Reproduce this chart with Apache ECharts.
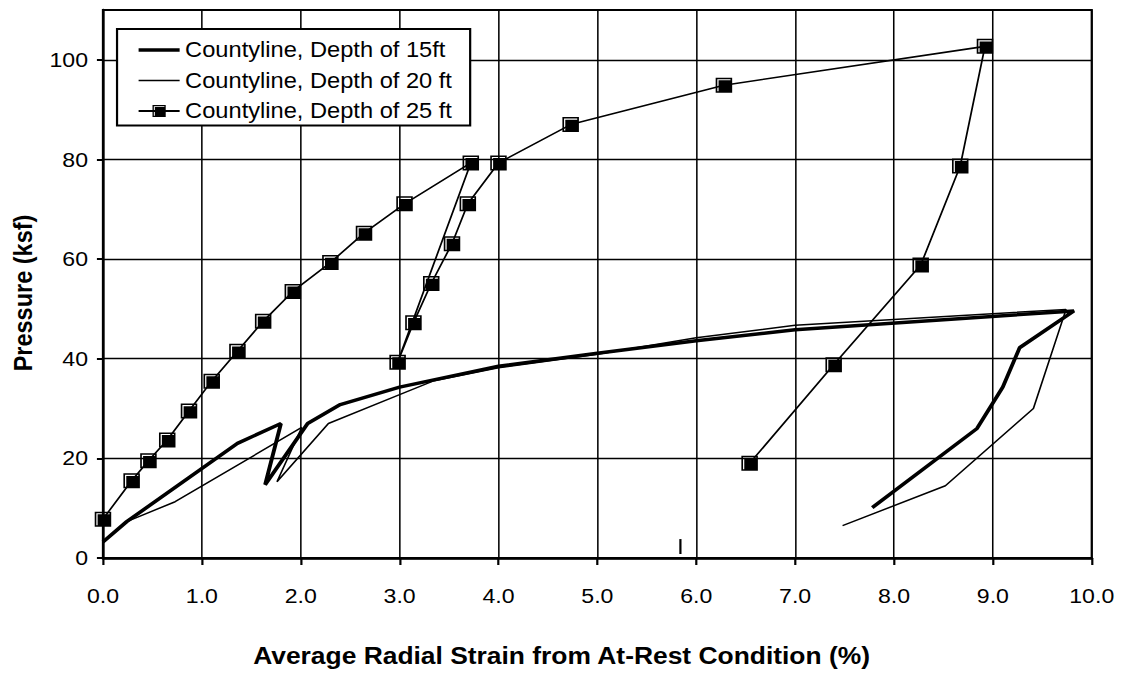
<!DOCTYPE html>
<html>
<head>
<meta charset="utf-8">
<script src="https://cdn.jsdelivr.net/npm/echarts@6/dist/echarts.min.js"></script>
<style>
  html, body { margin: 0; padding: 0; background: #ffffff; overflow: hidden; }
  #wrap { width: 1123px; height: 673px; overflow: hidden; background: #ffffff; }
  /* the original picture is horizontally stretched by ~10% */
  #chart { width: 1021px; height: 673px; transform: scaleX(1.1); transform-origin: 0 0; }
</style>
</head>
<body>
<div id="wrap"><div id="chart"></div></div>
<script>
// ---------- data ----------
const seriesNames = ['Countyline, Depth of 15ft', 'Countyline, Depth of 20 ft', 'Countyline, Depth of 25 ft'];

const strain15   = [0.00, 0.24, 1.36, 1.80, 1.64, 2.07, 2.40, 3.00, 4.00, 5.00, 6.00, 7.00, 9.82, 9.27, 9.10, 8.84, 7.78];
const pressure15 = [3.2,  7.3,  23.0, 27.0, 14.7, 27.0, 30.8, 34.3, 38.5, 41.1, 43.6, 45.8, 49.6, 42.2, 34.3, 26.0, 10.1];

const strain20   = [0.00, 0.24, 0.73, 2.01, 1.76, 2.28, 3.00, 3.35, 4.00, 5.00, 6.00, 7.00, 9.74, 9.41, 8.52, 7.48];
const pressure20 = [3.3,  7.3,  11.3, 26.2, 15.3, 27.0, 32.8, 35.6, 38.2, 40.9, 44.2, 46.7, 49.9, 30.0, 14.5, 6.5];

const strain25   = [0.00, 0.29, 0.46, 0.65, 0.87, 1.10, 1.36, 1.62, 1.92, 2.30, 2.64, 3.05, 3.72, 2.98, 3.14, 3.32, 3.53, 3.69, 4.00, 4.73, 6.28, 8.92, 8.67, 8.27, 7.39, 6.54];
const pressure25 = [7.8,  15.5, 19.5, 23.7, 29.5, 35.5, 41.5, 47.5, 53.5, 59.3, 65.2, 71.1, 79.3, 39.3, 47.2, 55.1, 63.1, 71.1, 79.3, 87.0, 94.9, 102.7, 78.7, 58.8, 38.8, 19.0];

// small stray vertical mark visible near the x axis in the original
const markStrain   = [5.84, 5.84];
const markPressure = [0.8, 3.8];

const xTicks = [0, 1, 2, 3, 4, 5, 6, 7, 8, 9, 10];
const yTicks = [0, 20, 40, 60, 80, 100];
const xAxisTitle = 'Average Radial Strain from At-Rest Condition (%)';
const yAxisTitle = 'Pressure (ksf)';

// ---------- chart ----------
const FONT = '"Liberation Sans", Arial, sans-serif';
const pairs = (xs, ys) => xs.map((x, i) => [x, ys[i]]);
// black square with a thin white highlight along top and left (Excel style marker)
const squareSymbol = 'path://M0,0 L16,0 L16,16 L0,16 Z M1.6,1.6 L1.6,14.4 L2.8,14.4 L2.8,2.8 L14.4,2.8 L14.4,1.6 Z';
const LEG_W = 37.3;
const thickIcon = 'path://M0,0 L' + LEG_W + ',0 L' + LEG_W + ',3.5 L0,3.5 Z';
const thinIcon  = 'path://M0,0 L' + LEG_W + ',0 L' + LEG_W + ',1.5 L0,1.5 Z';

const chart = echarts.init(document.getElementById('chart'), null, { renderer: 'svg', width: 1021, height: 673 });

const option = {
  animation: false,
  backgroundColor: '#ffffff',
  textStyle: { fontFamily: FONT, color: '#000' },
  title: {
    text: xAxisTitle,
    left: 'center',
    top: 643,
    padding: 0,
    textStyle: { fontFamily: FONT, fontSize: 24, fontWeight: 'bold', color: '#000' }
  },
  grid: {
    left: 93.6, right: 28.5, top: 10, bottom: 115,
    show: true, borderColor: '#000', borderWidth: 2, backgroundColor: 'transparent'
  },
  legend: {
    data: [
      { name: seriesNames[0], icon: thickIcon },
      { name: seriesNames[1], icon: thinIcon },
      { name: seriesNames[2] }
    ],
    orient: 'vertical',
    left: 106.4, top: 29,
    padding: [10, 16.5, 3.5, 18.6],
    itemGap: 8.5,
    itemWidth: LEG_W,
    itemHeight: 15,
    borderColor: '#000',
    borderWidth: 2,
    borderRadius: 0,
    backgroundColor: '#ffffff',
    textStyle: { fontFamily: FONT, fontSize: 21.5, color: '#000' }
  },
  xAxis: {
    type: 'value',
    min: xTicks[0], max: xTicks[xTicks.length - 1], interval: 1,
    axisLine: { show: true, lineStyle: { color: '#000', width: 2.5 } },
    axisTick: { show: true, length: 7, lineStyle: { color: '#000', width: 2 } },
    axisLabel: {
      fontFamily: FONT, fontSize: 21, color: '#000', margin: 27,
      formatter: v => v.toFixed(1)
    },
    splitLine: { show: true, lineStyle: { color: '#000', width: 1.4 } }
  },
  yAxis: {
    type: 'value',
    min: 0, max: 110, interval: 20,
    name: yAxisTitle,
    nameLocation: 'middle',
    nameRotate: 90,
    nameGap: 61,
    nameTextStyle: { fontFamily: FONT, fontSize: 23.5, fontWeight: 'bold', color: '#000', padding: [0, 18, 0, 0] },
    axisLine: { show: true, lineStyle: { color: '#000', width: 2.3 } },
    axisTick: { show: true, length: 5.5, customValues: yTicks, lineStyle: { color: '#000', width: 2 } },
    axisLabel: { fontFamily: FONT, fontSize: 21, color: '#000', margin: 13.6, customValues: yTicks },
    splitLine: { show: true, lineStyle: { color: '#000', width: 1.3 } }
  },
  series: [
    {
      name: seriesNames[0], type: 'line',
      data: pairs(strain15, pressure15),
      showSymbol: false, symbol: 'none',
      lineStyle: { color: '#000', width: 3.5 },
      itemStyle: { color: '#000' },
      z: 3
    },
    {
      name: seriesNames[1], type: 'line',
      data: pairs(strain20, pressure20),
      showSymbol: false, symbol: 'none',
      lineStyle: { color: '#000', width: 1.5 },
      itemStyle: { color: '#000' },
      z: 3
    },
    {
      name: seriesNames[2], type: 'line',
      data: pairs(strain25, pressure25),
      symbol: squareSymbol, symbolSize: 15,
      lineStyle: { color: '#000', width: 1.6 },
      itemStyle: { color: '#000' },
      z: 4
    },
    {
      name: 'mark', type: 'line',
      data: pairs(markStrain, markPressure),
      symbol: 'none',
      lineStyle: { color: '#000', width: 2 },
      silent: true, z: 2
    }
  ]
};

chart.setOption(option);
</script>
</body>
</html>
